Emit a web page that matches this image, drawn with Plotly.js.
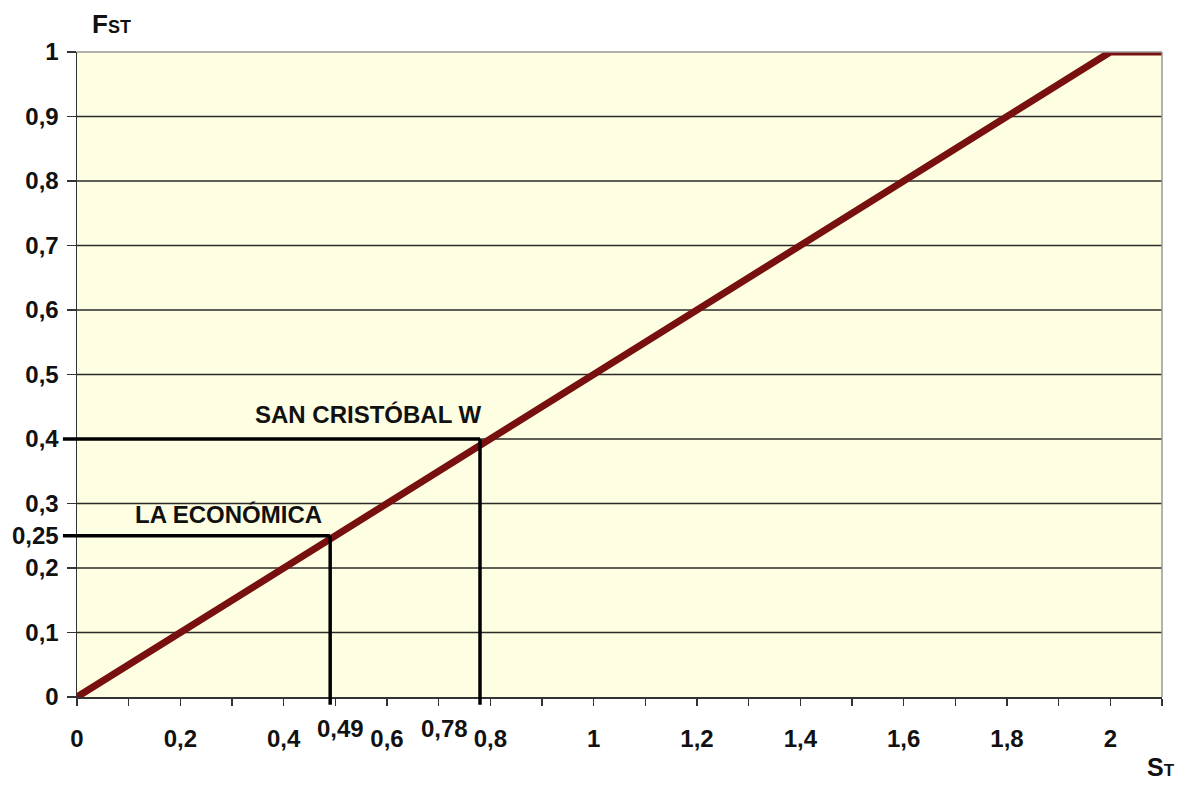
<!DOCTYPE html>
<html>
<head>
<meta charset="utf-8">
<script src="https://cdn.plot.ly/plotly-3.0.1.min.js"></script>
<style>html,body{margin:0;padding:0;background:#fff;}#chart{width:1187px;height:785px;}</style>
</head>
<body>
<div id="chart"></div>
<script>
// Curve F_ST vs S_T
const curveS = [0, 2, 2.1];
const curveF = [0, 1, 1];

// Marked points
const pointNames = ['LA ECONÓMICA', 'SAN CRISTÓBAL W'];
const pointS = [0.49, 0.78];
const pointF = [0.25, 0.4];
const pointSLabels = ['0,49', '0,78'];

// Axis ticks
const xTickVals = [0,0.1,0.2,0.3,0.4,0.5,0.6,0.7,0.8,0.9,1,1.1,1.2,1.3,1.4,1.5,1.6,1.7,1.8,1.9,2,2.1];
const xTickText = ['0','','0,2','','0,4','','0,6','','0,8','','1','','1,2','','1,4','','1,6','','1,8','','2',''];
const yTickVals = [0,0.1,0.2,0.25,0.3,0.4,0.5,0.6,0.7,0.8,0.9,1];
const yTickText = ['0','0,1','0,2','0,25','0,3','0,4','0,5','0,6','0,7','0,8','0,9','1'];
const yGridVals = [0.1,0.2,0.3,0.4,0.5,0.6,0.7,0.8,0.9];

const FONT = 'Liberation Sans, Arial, sans-serif';

const shapes = [];
// horizontal gridlines
yGridVals.forEach(v => shapes.push({type:'line', xref:'paper', yref:'y', x0:0, x1:1, y0:v, y1:v, line:{color:'#2a2a2a', width:1.5}, layer:'below'}));
// drop lines for the marked points
pointS.forEach((s, i) => {
  shapes.push({type:'line', xref:'x', yref:'y', x0:0, x1:s, y0:pointF[i], y1:pointF[i], line:{color:'#000', width:3.5}, layer:'above'});
  shapes.push({type:'line', xref:'paper', yref:'y', x0:-0.013, x1:0, y0:pointF[i], y1:pointF[i], line:{color:'#000', width:3.5}, layer:'above'});
  shapes.push({type:'line', xref:'x', yref:'y', x0:s, x1:s, y0:pointF[i], y1:0, line:{color:'#000', width:3.5}, layer:'above'});
  shapes.push({type:'line', xref:'x', yref:'paper', x0:s, x1:s, y0:0, y1:-0.012, line:{color:'#000', width:3.5}, layer:'above'});
});

const annFont = {family:FONT, size:24, color:'#111'};
const annotations = [
  {xref:'x', yref:'y', x:pointS[0], y:pointF[0], text:'<b>'+pointNames[0]+'</b>', showarrow:false, xanchor:'center', yanchor:'middle', xshift:-102, yshift:21, font:annFont},
  {xref:'x', yref:'y', x:pointS[1], y:pointF[1], text:'<b>'+pointNames[1]+'</b>', showarrow:false, xanchor:'center', yanchor:'middle', xshift:-112, yshift:25, font:annFont},
  {xref:'x', yref:'paper', x:pointS[0], y:0, text:'<b>'+pointSLabels[0]+'</b>', showarrow:false, xanchor:'center', yanchor:'middle', xshift:10, yshift:-31, font:annFont},
  {xref:'x', yref:'paper', x:pointS[1], y:0, text:'<b>'+pointSLabels[1]+'</b>', showarrow:false, xanchor:'center', yanchor:'middle', xshift:-36, yshift:-31, font:annFont},
  {xref:'paper', yref:'paper', x:0, y:1, text:'<b>F<span style="font-size:18px">ST</span></b>', showarrow:false, xanchor:'left', yanchor:'middle', xshift:13, yshift:28, font:{family:FONT, size:26, color:'#111'}},
  {xref:'paper', yref:'paper', x:1, y:0, text:'<b>S<span style="font-size:17px">T</span></b>', showarrow:false, xanchor:'right', yanchor:'middle', xshift:15, yshift:-70, font:{family:FONT, size:25, color:'#111'}}
];

const data = [{
  x: curveS, y: curveF, type:'scatter', mode:'lines',
  line:{color:'#781010', width:7}, hoverinfo:'skip', showlegend:false
}];

const tickFont = {family:FONT, size:24, color:'#111', weight:'bold'};

const layout = {
  width:1187, height:785,
  margin:{l:77, r:25, t:52, b:88},
  paper_bgcolor:'#ffffff',
  plot_bgcolor:'#fefee2',
  showlegend:false,
  xaxis:{
    range:[0,2.1], tickmode:'array', tickvals:xTickVals, ticktext:xTickText,
    ticks:'outside', ticklen:7, tickwidth:1.5, tickcolor:'#333',
    showgrid:false, zeroline:false, showline:true, linecolor:'#333', linewidth:1.5, mirror:false,
    ticklabelstandoff:13,
    tickfont:tickFont, fixedrange:true
  },
  yaxis:{
    range:[0,1], tickmode:'array', tickvals:yTickVals, ticktext:yTickText,
    ticks:'outside', ticklen:9, tickwidth:1.5, tickcolor:'#333',
    showgrid:false, zeroline:false, showline:true, linecolor:'#333', linewidth:1.5,
    ticklabelstandoff:3,
    tickfont:tickFont, fixedrange:true
  },
  shapes: shapes.concat([
    {type:'line', xref:'paper', yref:'paper', x0:0, x1:1, y0:1, y1:1, line:{color:'#999', width:1.5}},
    {type:'line', xref:'paper', yref:'paper', x0:1, x1:1, y0:0, y1:1, line:{color:'#999', width:1.5}}
  ]),
  annotations: annotations
};

Plotly.newPlot('chart', data, layout, {displayModeBar:false, staticPlot:true});
</script>
</body>
</html>
